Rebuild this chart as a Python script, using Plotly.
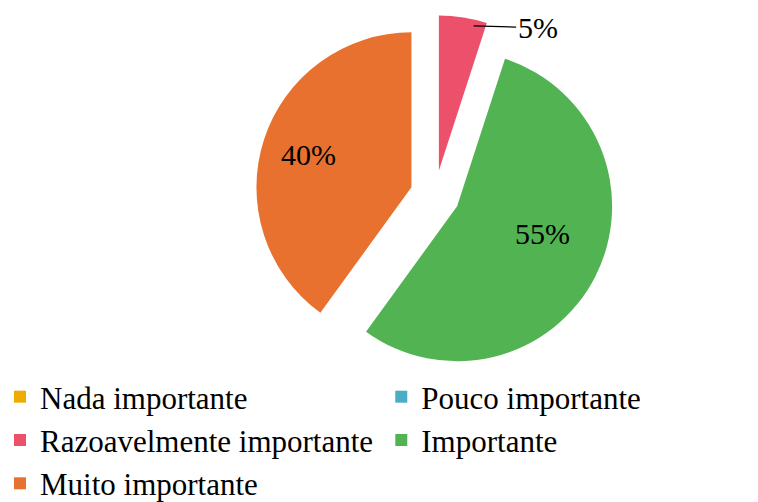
import math
import plotly.graph_objects as go

# Survey answers and their share of respondents (%)
categories = [
    "Nada importante",
    "Pouco importante",
    "Razoavelmente importante",
    "Importante",
    "Muito importante",
]
shares = [0, 0, 5, 55, 40]
slice_colors = ["#F0AB00", "#4BACC6", "#EC506B", "#52B352", "#E8712F"]

W, H = 758, 502
PULL = 0.16
DOM_X = [0.3367, 0.8111]
DOM_Y = [0.2534, 0.9697]
SERIF = "Liberation Serif"
n = len(shares)

fig = go.Figure(
    go.Pie(
        labels=categories,
        values=shares,
        textinfo="none",
        sort=False,
        direction="clockwise",
        rotation=0,
        pull=[PULL] * n,
        marker=dict(colors=slice_colors, line=dict(width=0)),
        domain=dict(x=DOM_X, y=DOM_Y),
        showlegend=True,
        hoverinfo="label+percent",
    )
)

# pie geometry in pixels, used to place the percentage labels
dom_w = (DOM_X[1] - DOM_X[0]) * W
dom_h = (DOM_Y[1] - DOM_Y[0]) * H
radius = min(dom_w, dom_h) / (2 * (1 + PULL))
cx = (DOM_X[0] + DOM_X[1]) / 2 * W
cy = (1 - (DOM_Y[0] + DOM_Y[1]) / 2) * H
total = sum(shares)
small_idx = min((i for i, v in enumerate(shares) if v > 0), key=lambda i: shares[i])


def slice_point(i, frac, where=0.5):
    """Pixel position inside slice i at a fraction of the radius."""
    start = sum(shares[:i]) / total * 360
    span = shares[i] / total * 360
    mid = math.radians(start + span / 2)
    ang = math.radians(start + span * where)
    x = cx + PULL * radius * math.sin(mid) + frac * radius * math.sin(ang)
    y = cy - PULL * radius * math.cos(mid) - frac * radius * math.cos(ang)
    return x / W, 1 - y / H


# (radius fraction, position along the slice) for the inside labels
label_spot = {3: (0.76, 0.43), 4: (0.74, 0.56)}

label_font = dict(family=SERIF, size=30, color="black")
for i, v in enumerate(shares):
    if v <= 0:
        continue
    if i == small_idx:
        # small slice: label outside, joined by a leader line
        x, y = slice_point(i, 0.96, 0.75)
        fig.add_annotation(
            x=x, y=y, xref="paper", yref="paper",
            text=f"{v}%",
            showarrow=True, arrowhead=0, arrowwidth=1.2, arrowcolor="black",
            ax=64, ay=2,
            font=label_font,
        )
    else:
        frac, where = label_spot.get(i, (0.66, 0.5))
        x, y = slice_point(i, frac, where)
        fig.add_annotation(
            x=x, y=y, xref="paper", yref="paper",
            text=f"{v}%",
            showarrow=False,
            font=label_font,
        )

fig.update_layout(
    width=W,
    height=H,
    margin=dict(l=0, r=0, t=0, b=0, autoexpand=False),
    paper_bgcolor="white",
    plot_bgcolor="white",
    font=dict(family=SERIF, size=30, color="black"),
    legend=dict(
        orientation="h",
        x=0,
        xanchor="left",
        y=-0.016,
        yanchor="bottom",
        traceorder="normal",
        entrywidth=0.503,
        entrywidthmode="fraction",
        itemwidth=30,
        font=dict(family=SERIF, size=31, color="black"),
        bgcolor="rgba(0,0,0,0)",
    ),
)

fig.write_html("out.html")
